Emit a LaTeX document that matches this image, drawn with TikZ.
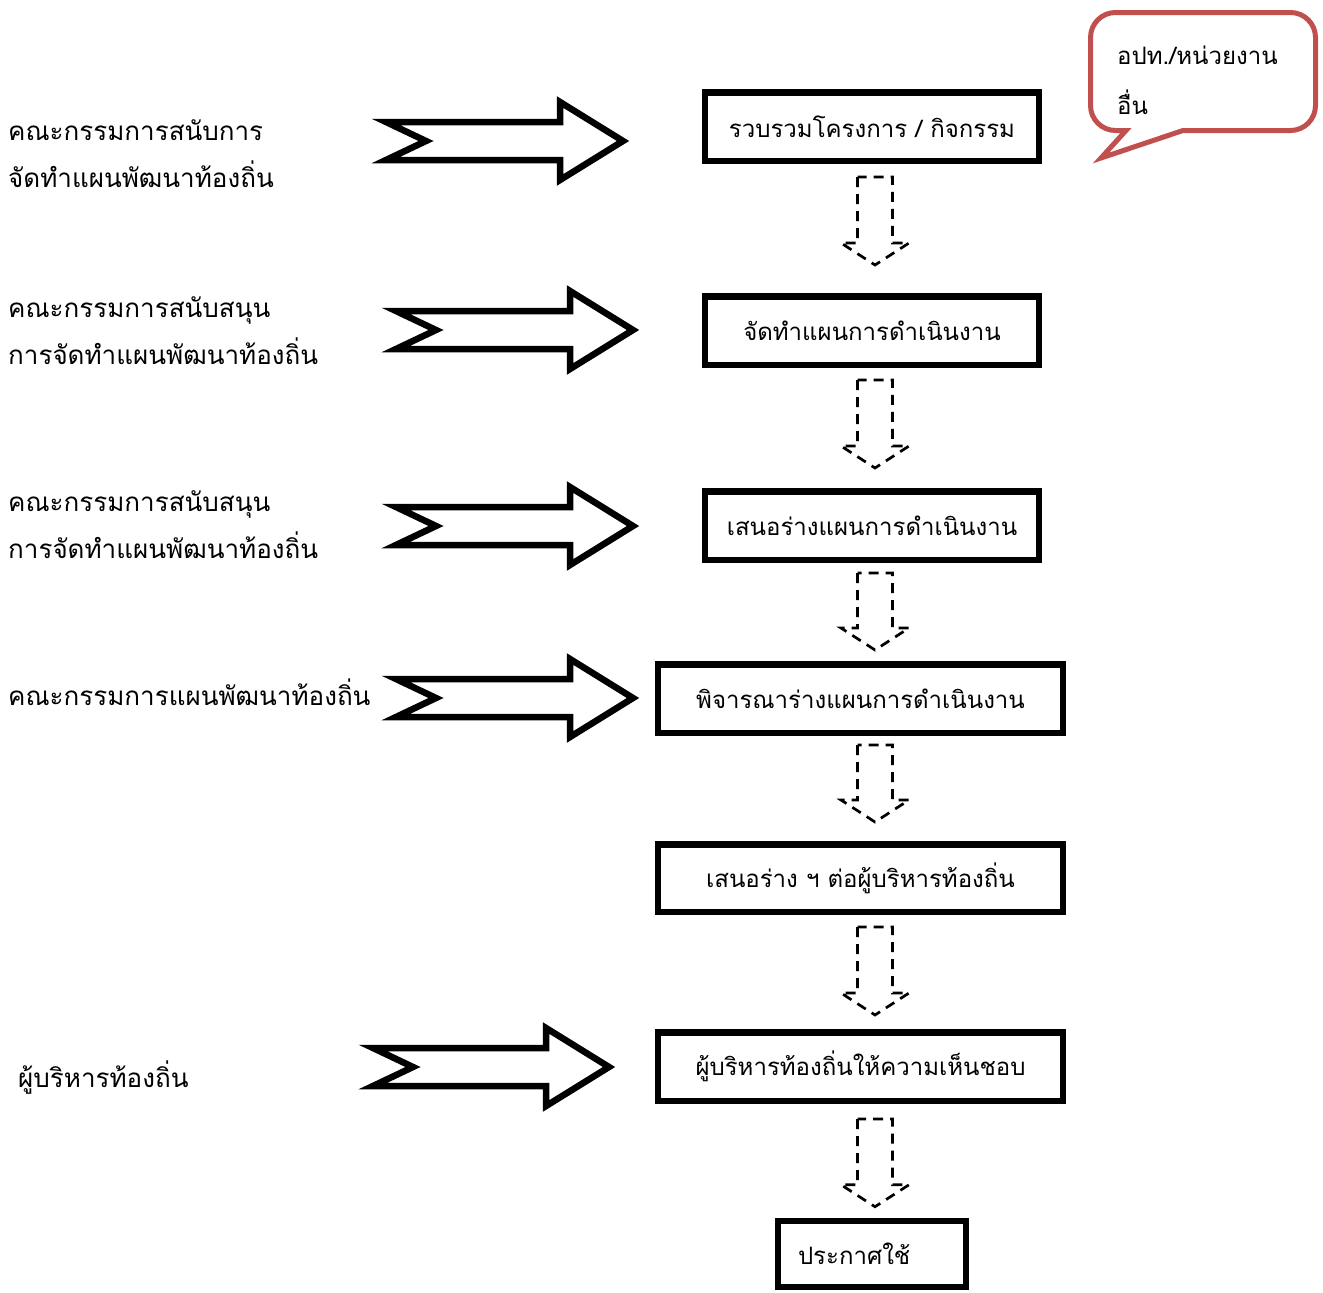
\documentclass[tikz,border=0pt]{standalone}
\usepackage{fontspec}
\newfontfamily\thaifont[Script=Thai]{Loma}
\usetikzlibrary{calc}
\definecolor{calloutred}{RGB}{192,80,77}
\newcommand\blockarr[3]{%
  \draw[blockarrow] (#1,#3-19) -- (#2-63,#3-19) -- (#2-63,#3-39) -- (#2,#3)
    -- (#2-63,#3+39) -- (#2-63,#3+19) -- (#1,#3+19) -- (#1+40,#3) -- cycle;}
\newcommand\dnarr[2]{%
  \draw[dasharrow] ($(#1)+(-17.5,0)$) -- ($(#2)+(-17.5,-22)$) -- ($(#2)+(-34,-22)$)
    -- (#2) -- ($(#2)+(34,-22)$) -- ($(#2)+(17.5,-22)$) -- ($(#1)+(17.5,0)$) -- cycle;}
\begin{document}
\begin{tikzpicture}[x=1pt,y=-1pt,
  box/.style={draw, line width=6.5pt, minimum height=68.5pt, inner sep=0pt,
    font=\thaifont\fontsize{24}{28}\selectfont},
  lefttext/.style={anchor=west, align=left, inner sep=0pt,
    font=\thaifont\fontsize{26}{47}\selectfont},
  blockarrow/.style={draw, line width=6.5pt, line join=miter, fill=white},
  dasharrow/.style={draw, line width=2.7pt, dash pattern=on 10pt off 7pt, line join=miter}]
\useasboundingbox (0,0) rectangle (1323,1293);

% process boxes
\node[box, minimum width=334pt] (b1) at (872,126.5) {รวบรวมโครงการ / กิจกรรม};
\node[box, minimum width=334pt] (b2) at (872,330.5) {จัดทำแผนการดำเนินงาน};
\node[box, minimum width=334pt] (b3) at (872,525.5) {เสนอร่างแผนการดำเนินงาน};
\node[box, minimum width=405pt] (b4) at (860.5,698.5) {พิจารณาร่างแผนการดำเนินงาน};
\node[box, minimum width=405pt, minimum height=67.5pt] (b5) at (860.5,878) {เสนอร่าง ฯ ต่อผู้บริหารท้องถิ่น};
\node[box, minimum width=405pt] (b6) at (860.5,1066.5) {ผู้บริหารท้องถิ่นให้ความเห็นชอบ};
\node[box, minimum width=188pt, minimum height=66pt, inner xsep=20pt,
      text width=148pt, align=left] (b7) at (872,1254) {ประกาศใช้};

% dashed flow arrows
\coordinate (col) at (875,0);
\coordinate (a1t) at ($(col |- b1.south)+(0,13)$);
\coordinate (a1h) at ($(col |- b2.north)+(0,-28)$);
\coordinate (a2t) at ($(col |- b2.south)+(0,12)$);
\coordinate (a2h) at ($(col |- b3.north)+(0,-20)$);
\coordinate (a3t) at ($(col |- b3.south)+(0,10)$);
\coordinate (a3h) at ($(col |- b4.north)+(0,-11)$);
\coordinate (a4t) at ($(col |- b4.south)+(0,9)$);
\coordinate (a4h) at ($(col |- b5.north)+(0,-19)$);
\coordinate (a5t) at ($(col |- b5.south)+(0,12)$);
\coordinate (a5h) at ($(col |- b6.north)+(0,-14)$);
\coordinate (a6t) at ($(col |- b6.south)+(0,15)$);
\coordinate (a6h) at ($(col |- b7.north)+(0,-11)$);
\dnarr{a1t}{a1h}
\dnarr{a2t}{a2h}
\dnarr{a3t}{a3h}
\dnarr{a4t}{a4h}
\dnarr{a5t}{a5h}
\dnarr{a6t}{a6h}

% left labels
\node[lefttext] (l1) at (8,153.5) {คณะกรรมการสนับการ\\จัดทำแผนพัฒนาท้องถิ่น};
\node[lefttext] (l2) at (8,330.5) {คณะกรรมการสนับสนุน\\การจัดทำแผนพัฒนาท้องถิ่น};
\node[lefttext] (l3) at (8,524.5) {คณะกรรมการสนับสนุน\\การจัดทำแผนพัฒนาท้องถิ่น};
\node[lefttext] (l4) at (8,692) {คณะกรรมการแผนพัฒนาท้องถิ่น};
\node[lefttext] (l5) at (18,1078) {ผู้บริหารท้องถิ่น};

% block arrows
\blockarr{386}{623}{141}
\blockarr{396}{633}{330}
\blockarr{396}{633}{526}
\blockarr{396}{633}{698}
\blockarr{373}{609}{1067}

% callout
\draw[calloutred, line width=5pt, line join=miter]
  (1126,130.5) -- (1101,158) -- (1183,130.5) -- (1290.5,130.5)
  arc[start angle=90, end angle=0, radius=25] -- (1315.5,37.5)
  arc[start angle=0, end angle=-90, radius=25] -- (1115.5,12.5)
  arc[start angle=-90, end angle=-180, radius=25] -- (1090.5,105.5)
  arc[start angle=180, end angle=90, radius=25] -- cycle;
\node[lefttext, font=\thaifont\fontsize{24}{50}\selectfont] (c1) at (1117,80) {อปท./หน่วยงาน\\อื่น};
\end{tikzpicture}
\end{document}
